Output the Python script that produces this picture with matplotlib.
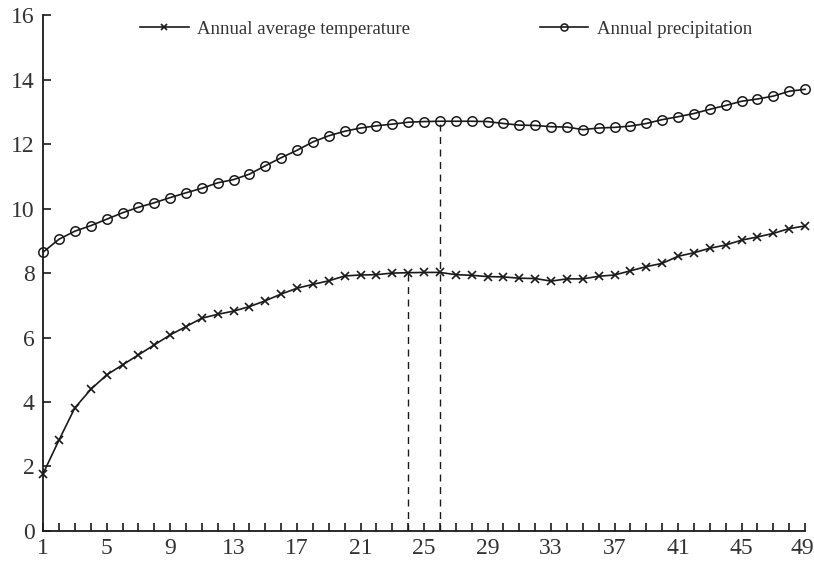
import numpy as np
import matplotlib
matplotlib.use("Agg")
import matplotlib.pyplot as plt
from matplotlib.transforms import ScaledTranslation

plt.rcParams['font.family'] = ['Liberation Serif', 'DejaVu Serif']

# %%
years = np.arange(1, 50)
temperature = [
    1.78, 2.82, 3.82, 4.39, 4.84, 5.15, 5.46, 5.77, 6.08, 6.34,
    6.60, 6.72, 6.82, 6.96, 7.14, 7.35, 7.53, 7.65, 7.76, 7.91,
    7.94, 7.95, 8.00, 8.01, 8.02, 8.02, 7.95, 7.93, 7.89, 7.88,
    7.84, 7.83, 7.75, 7.82, 7.82, 7.90, 7.94, 8.07, 8.20, 8.30,
    8.52, 8.63, 8.77, 8.87, 9.02, 9.12, 9.23, 9.38, 9.46,
]
precipitation = [
    8.65, 9.05, 9.30, 9.47, 9.67, 9.87, 10.04, 10.18, 10.34, 10.49,
    10.63, 10.80, 10.90, 11.07, 11.33, 11.58, 11.81, 12.07, 12.26, 12.40,
    12.50, 12.57, 12.62, 12.68, 12.70, 12.71, 12.71, 12.71, 12.70, 12.64,
    12.59, 12.58, 12.54, 12.53, 12.45, 12.50, 12.52, 12.56, 12.64, 12.76,
    12.85, 12.95, 13.08, 13.20, 13.33, 13.40, 13.49, 13.64, 13.70,
]
xtick_labels = np.arange(1, 50, 4)
ytick_labels = np.arange(0, 17, 2)
marked_years = [24, 26]

ink = '#1a1a1a'

# %%
fig = plt.figure(figsize=(8.14, 5.63), dpi=100)
ax = fig.add_axes([0.053, 0.057, 0.936, 0.916])

ax.plot(years, temperature, color=ink, lw=1.2, marker='x', ms=6,
        mew=1.2, label='Annual average temperature', clip_on=False)
ax.plot(years, precipitation, color=ink, lw=1.2, marker='o', ms=6.8,
        mfc='none', mew=1.1, label='Annual precipitation', clip_on=False)

# dashed guide lines down to the axis
ax.vlines(marked_years[0], 0, temperature[marked_years[0] - 1],
          colors=ink, linestyles=(0, (5, 4)), lw=1.0)
ax.vlines(marked_years[1], 0, precipitation[marked_years[1] - 1],
          colors=ink, linestyles=(0, (5, 4)), lw=1.0)

ax.set_xlim(1, 49)
ax.set_ylim(0, 16)
ax.set_xticks(xtick_labels)
ax.set_xticks(years, minor=True)
ax.set_yticks(ytick_labels)

for side in ['top', 'right']:
    ax.spines[side].set_visible(False)
for side in ['left', 'bottom']:
    ax.spines[side].set_linewidth(1.3)
    ax.spines[side].set_color(ink)

ax.tick_params(axis='both', which='both', direction='in', length=6,
               width=1.2, color=ink, labelsize=17, labelcolor='#333333')
ax.tick_params(axis='x', pad=5)
ax.tick_params(axis='y', pad=6)

# nudge the last x label so it stays inside the canvas
last = ax.xaxis.get_major_ticks()[-1].label1
last.set_transform(last.get_transform()
                   + ScaledTranslation(-3 / 100, 0, fig.dpi_scale_trans))

ax.legend(loc='upper left', bbox_to_anchor=(0.105, 1.022), ncol=2,
          frameon=False, fontsize=13.5, handlelength=2.6, markerscale=0.75,
          handletextpad=0.45, columnspacing=6.9, labelcolor='#333333')

plt.savefig('out.png', dpi=100)
plt.close(fig)
